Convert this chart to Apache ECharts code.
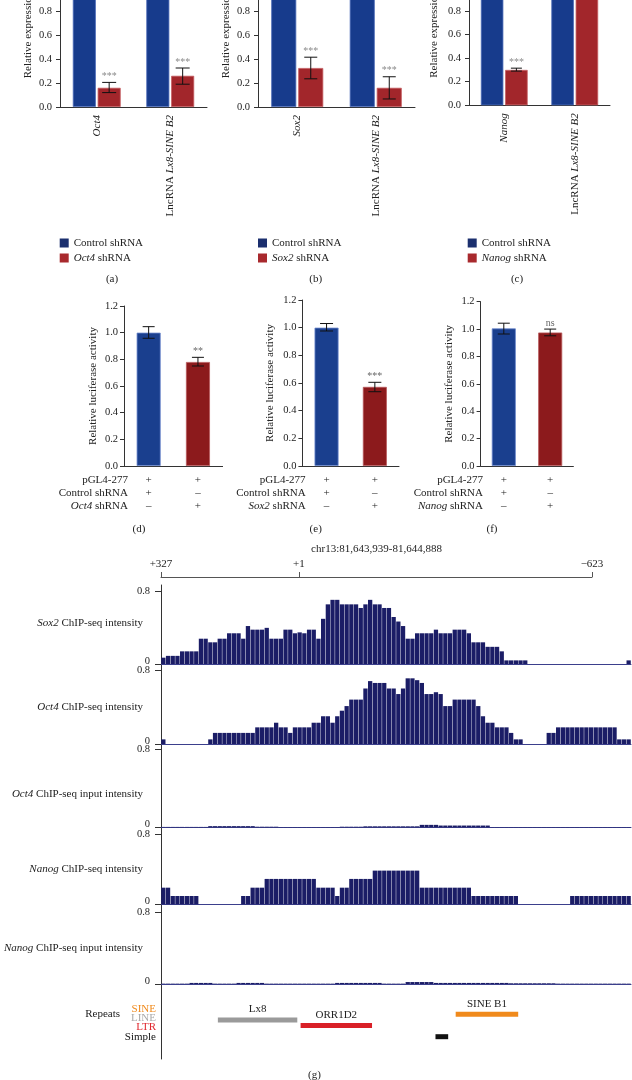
<!DOCTYPE html>
<html>
<head>
<meta charset="utf-8">
<title>Lx8-SINE B2 promoter binding</title>
<script src="https://cdn.jsdelivr.net/npm/echarts@6/dist/echarts.min.js"></script>
<style>
html, body { margin: 0; padding: 0; background: #fff; }
#main { width: 632px; height: 1080px; }
</style>
</head>
<body>
<div id="main"></div>
<script>
var FONT = 'Liberation Serif';

// (a)-(c) relative expression after knockdown
var exprCatsA = ['Oct4', 'LncRNA Lx8-SINE B2'];
var exprCatsB = ['Sox2', 'LncRNA Lx8-SINE B2'];
var exprCatsC = ['Nanog', 'LncRNA Lx8-SINE B2'];
var ctrlExprA = [1.0, 1.0];
var kdExprA = [0.16, 0.26];
var kdLowA = [0.12, 0.19];
var kdHighA = [0.205, 0.325];
var sigA = ['***', '***'];
var ctrlExprB = [1.0, 1.0];
var kdExprB = [0.325, 0.16];
var kdLowB = [0.235, 0.067];
var kdHighB = [0.415, 0.252];
var sigB = ['***', '***'];
var ctrlExprC = [1.0, 1.0];
var kdExprC = [0.30, 1.0];
var kdLowC = [0.29, null];
var kdHighC = [0.315, null];
var sigC = ['***', ''];

// (d)-(f) luciferase reporter
var lucCats = ['Control shRNA', 'Knockdown shRNA'];
var lucD = [1.0, 0.78];
var lucLowD = [0.958, 0.75];
var lucHighD = [1.045, 0.815];
var lucSigD = ['', '**'];
var lucE = [1.0, 0.572];
var lucLowE = [0.976, 0.537];
var lucHighE = [1.03, 0.605];
var lucSigE = ['', '***'];
var lucF = [1.005, 0.975];
var lucLowF = [0.964, 0.951];
var lucHighF = [1.043, 1.0];
var lucSigF = ['', 'ns'];
var rowPgl = ['+', '+'];
var rowCtrl = ['+', '–'];
var rowKd = ['–', '+'];

// (g) ChIP-seq tracks, 100 bins across the window
var sox2Track = [
  0.07, 0.09, 0.09, 0.09, 0.14, 0.14, 0.14, 0.14, 0.28, 0.28,
  0.24, 0.24, 0.28, 0.28, 0.34, 0.34, 0.34, 0.28, 0.42, 0.38,
  0.38, 0.38, 0.40, 0.28, 0.28, 0.28, 0.38, 0.38, 0.34, 0.35,
  0.34, 0.38, 0.38, 0.28, 0.50, 0.66, 0.71, 0.71, 0.66, 0.66,
  0.66, 0.66, 0.62, 0.66, 0.71, 0.66, 0.66, 0.62, 0.62, 0.52,
  0.47, 0.42, 0.28, 0.28, 0.34, 0.34, 0.34, 0.34, 0.38, 0.34,
  0.34, 0.34, 0.38, 0.38, 0.38, 0.34, 0.24, 0.24, 0.24, 0.19,
  0.19, 0.19, 0.14, 0.04, 0.04, 0.04, 0.04, 0.04, 0, 0,
  0, 0, 0, 0, 0, 0, 0, 0, 0, 0,
  0, 0, 0, 0, 0, 0, 0, 0, 0, 0.04
];
var oct4Track = [
  0.05, 0, 0, 0, 0, 0, 0, 0, 0, 0,
  0.05, 0.12, 0.12, 0.12, 0.12, 0.12, 0.12, 0.12, 0.12, 0.12,
  0.18, 0.18, 0.18, 0.18, 0.23, 0.18, 0.18, 0.12, 0.18, 0.18,
  0.18, 0.18, 0.23, 0.23, 0.30, 0.30, 0.23, 0.30, 0.36, 0.41,
  0.48, 0.48, 0.48, 0.60, 0.68, 0.66, 0.66, 0.66, 0.60, 0.60,
  0.54, 0.60, 0.71, 0.71, 0.69, 0.66, 0.54, 0.54, 0.56, 0.54,
  0.41, 0.41, 0.48, 0.48, 0.48, 0.48, 0.48, 0.41, 0.30, 0.23,
  0.23, 0.18, 0.18, 0.18, 0.12, 0.05, 0.05, 0, 0, 0,
  0, 0, 0.12, 0.12, 0.18, 0.18, 0.18, 0.18, 0.18, 0.18,
  0.18, 0.18, 0.18, 0.18, 0.18, 0.18, 0.18, 0.05, 0.05, 0.05
];
var oct4Input = [
  0.004, 0.004, 0.004, 0.004, 0.004, 0.004, 0.004, 0.004, 0.004, 0.004,
  0.012, 0.012, 0.012, 0.012, 0.012, 0.012, 0.012, 0.012, 0.012, 0.012,
  0.006, 0.006, 0.006, 0.006, 0.006, 0.003, 0.003, 0.003, 0.003, 0.003,
  0.003, 0.003, 0.003, 0.003, 0.003, 0.003, 0.003, 0.003, 0.006, 0.006,
  0.006, 0.006, 0.006, 0.010, 0.010, 0.010, 0.010, 0.010, 0.010, 0.010,
  0.010, 0.010, 0.010, 0.010, 0.010, 0.025, 0.025, 0.025, 0.025, 0.018,
  0.018, 0.018, 0.018, 0.018, 0.018, 0.018, 0.018, 0.018, 0.018, 0.018,
  0.003, 0.003, 0.003, 0.003, 0.003, 0.003, 0.003, 0.003, 0.003, 0.003,
  0.003, 0.003, 0.003, 0.003, 0.003, 0.003, 0.003, 0.003, 0.003, 0.003,
  0.003, 0.003, 0.003, 0.003, 0.003, 0.003, 0.003, 0.003, 0.003, 0.003
];
var nanogTrack = [
  0.19, 0.19, 0.095, 0.095, 0.095, 0.095, 0.095, 0.095, 0, 0,
  0, 0, 0, 0, 0, 0, 0, 0.095, 0.095, 0.19,
  0.19, 0.19, 0.29, 0.29, 0.29, 0.29, 0.29, 0.29, 0.29, 0.29,
  0.29, 0.29, 0.29, 0.19, 0.19, 0.19, 0.19, 0.095, 0.19, 0.19,
  0.29, 0.29, 0.29, 0.29, 0.29, 0.385, 0.385, 0.385, 0.385, 0.385,
  0.385, 0.385, 0.385, 0.385, 0.385, 0.19, 0.19, 0.19, 0.19, 0.19,
  0.19, 0.19, 0.19, 0.19, 0.19, 0.19, 0.095, 0.095, 0.095, 0.095,
  0.095, 0.095, 0.095, 0.095, 0.095, 0.095, 0, 0, 0, 0,
  0, 0, 0, 0, 0, 0, 0, 0.095, 0.095, 0.095,
  0.095, 0.095, 0.095, 0.095, 0.095, 0.095, 0.095, 0.095, 0.095, 0.095
];
var nanogInput = [
  0.004, 0.004, 0.004, 0.004, 0.004, 0.004, 0.012, 0.012, 0.012, 0.012,
  0.012, 0.004, 0.004, 0.004, 0.004, 0.004, 0.012, 0.012, 0.012, 0.012,
  0.012, 0.012, 0.004, 0.004, 0.004, 0.004, 0.004, 0.004, 0.004, 0.004,
  0.004, 0.004, 0.004, 0.004, 0.004, 0.004, 0.004, 0.012, 0.012, 0.012,
  0.012, 0.012, 0.012, 0.012, 0.012, 0.012, 0.012, 0.004, 0.004, 0.004,
  0.004, 0.004, 0.022, 0.022, 0.022, 0.022, 0.022, 0.022, 0.012, 0.012,
  0.012, 0.012, 0.012, 0.012, 0.012, 0.012, 0.012, 0.012, 0.012, 0.012,
  0.012, 0.012, 0.012, 0.012, 0.008, 0.008, 0.008, 0.008, 0.008, 0.008,
  0.008, 0.008, 0.008, 0.008, 0.004, 0.004, 0.004, 0.004, 0.004, 0.004,
  0.004, 0.004, 0.004, 0.004, 0.004, 0.004, 0.004, 0.004, 0.004, 0.004
];
var trackNames = [
  '{i|Sox2} ChIP-seq intensity',
  '{i|Oct4} ChIP-seq intensity',
  '{i|Oct4} ChIP-seq input intensity',
  '{i|Nanog} ChIP-seq intensity',
  '{i|Nanog} ChIP-seq input intensity'
];
var trackValues = [sox2Track, oct4Track, oct4Input, nanogTrack, nanogInput];

// coordinate ruler above the tracks
var rulerPos = [0, 304, 950];
var rulerText = ['+327', '+1', '−623'];

// repeat annotation, in track bins
var repeatNames = ['Lx8', 'ORR1D2', 'SINE B1', ''];
var repeatClass = ['LINE', 'LTR', 'SINE', 'Simple'];
var repeatStart = [12.1, 29.7, 62.7, 58.4];
var repeatEnd = [29.0, 44.9, 76.0, 61.1];
var repeatRow = [1, 2, 0, 4];

var BLUE = '#173b8c', RED = '#a2262b';
var BLUE2 = '#1a3f8e', RED2 = '#8c1a1c';
var NAVY = '#1b1d66';
var AXIS = '#333';
var TEXT = '#222';
var repeatColors = { SINE: '#f08a1c', LINE: '#9a9a9a', LTR: '#d92027', Simple: '#111' };
var ital = { fontStyle: 'italic', fontFamily: FONT, fontSize: 11, color: TEXT };

function geneRich(s) {
  return s.replace(/(Oct4|Sox2|Nanog|Lx8-SINE B2)/g, '{i|$1}');
}

var grids = [], xAxes = [], yAxes = [], series = [], texts = [];

function txt(x, y, s, align, size, color) {
  texts.push({
    type: 'text', x: x, y: y, silent: true,
    style: {
      text: s, align: align || 'center', textAlign: align || 'center',
      verticalAlign: 'middle', textVerticalAlign: 'middle',
      fontSize: size || 11, fontFamily: FONT, fill: color || TEXT,
      rich: { i: ital }
    }
  });
}

function errorBars(offset, capW, sig, sigColor) {
  return function (params, api) {
    var lo = api.value(1), hi = api.value(2);
    if (isNaN(lo) || isNaN(hi)) return null;
    var a = api.coord([api.value(0), lo]);
    var b = api.coord([api.value(0), hi]);
    var x = a[0] + offset;
    var st = { stroke: '#111', lineWidth: 1 };
    var kids = [
      { type: 'line', shape: { x1: x, y1: a[1], x2: x, y2: b[1] }, style: st },
      { type: 'line', shape: { x1: x - capW / 2, y1: a[1], x2: x + capW / 2, y2: a[1] }, style: st },
      { type: 'line', shape: { x1: x - capW / 2, y1: b[1], x2: x + capW / 2, y2: b[1] }, style: st }
    ];
    var s = sig[params.dataIndex];
    if (s) {
      kids.push({
        type: 'text',
        style: {
          text: s, x: x, y: b[1] - 6, align: 'center', textAlign: 'center',
          verticalAlign: 'middle', textVerticalAlign: 'middle',
          fill: sigColor, fontSize: 10, fontFamily: FONT
        }
      });
    }
    return { type: 'group', children: kids };
  };
}

function valueAxis(gi, name, nameGap, margin) {
  return {
    gridIndex: gi, type: 'value', min: 0, max: 1.2, interval: 0.2,
    name: name, nameLocation: 'middle', nameGap: nameGap, nameMoveOverlap: false,
    nameTextStyle: { fontSize: 11, color: TEXT, fontFamily: FONT },
    axisLine: { show: true, lineStyle: { color: AXIS } },
    axisTick: { show: true, length: 4, lineStyle: { color: AXIS } },
    axisLabel: {
      margin: margin, fontSize: 10.5, color: TEXT, fontFamily: FONT,
      formatter: function (v) { return v.toFixed(1); }
    },
    splitLine: { show: false }
  };
}

function addExprPanel(box, cats, ctrl, kd, lo, hi, sig, kdName, barW, capW, nameGap) {
  var gi = grids.length;
  box.outerBoundsMode = 'none';
  grids.push(box);
  xAxes.push({
    gridIndex: gi, type: 'category', data: cats,
    axisLine: { lineStyle: { color: AXIS } },
    axisTick: { alignWithLabel: true, length: 4, lineStyle: { color: AXIS } },
    axisLabel: {
      interval: 0, rotate: 90, margin: 8, fontSize: 11, color: TEXT, fontFamily: FONT,
      formatter: geneRich, rich: { i: ital }
    }
  });
  yAxes.push(valueAxis(gi, 'Relative expression', nameGap, 8));
  series.push({
    type: 'bar', name: 'Control shRNA', xAxisIndex: gi, yAxisIndex: gi, data: ctrl,
    barWidth: barW, barGap: '8%',
    itemStyle: { color: BLUE, borderColor: '#4a69b8', borderWidth: 0.8 }
  });
  series.push({
    type: 'bar', name: kdName, xAxisIndex: gi, yAxisIndex: gi, data: kd,
    barWidth: barW, barGap: '8%',
    itemStyle: { color: RED, borderColor: '#c45a5e', borderWidth: 0.8 }
  });
  series.push({
    type: 'custom', xAxisIndex: gi, yAxisIndex: gi, z: 5, silent: true,
    data: kd.map(function (v, i) { return [i, lo[i], hi[i]]; }),
    renderItem: errorBars(barW * 1.08 / 2, capW, sig, '#8a8a8a')
  });
}

function addLucPanel(box, vals, lo, hi, sig, kdName, capW, nameGap, headRight) {
  var gi = grids.length;
  box.outerBoundsMode = 'none';
  grids.push(box);
  xAxes.push({
    gridIndex: gi, type: 'category', data: lucCats,
    axisLine: { lineStyle: { color: AXIS } },
    axisTick: { show: false },
    axisLabel: {
      interval: 0, margin: 7.5, lineHeight: 13, fontSize: 11, color: TEXT, fontFamily: FONT,
      formatter: function (v, i) { return [rowPgl[i], rowCtrl[i], rowKd[i]].join('\n'); }
    }
  });
  yAxes.push(valueAxis(gi, 'Relative luciferase activity', nameGap, 6));
  series.push({
    type: 'bar', xAxisIndex: gi, yAxisIndex: gi, barWidth: 24,
    data: vals.map(function (v, i) {
      return {
        value: v,
        itemStyle: {
          color: i ? RED2 : BLUE2,
          borderColor: i ? '#b8585a' : '#6a87cc', borderWidth: 0.8
        }
      };
    })
  });
  series.push({
    type: 'custom', xAxisIndex: gi, yAxisIndex: gi, z: 5, silent: true,
    data: vals.map(function (v, i) { return [i, lo[i], hi[i]]; }),
    renderItem: errorBars(0, capW, sig, '#666')
  });
  var heads = ['pGL4-277', 'Control shRNA', geneRich(kdName)];
  heads.forEach(function (h, r) { txt(headRight, 480 + 13 * r, h, 'right'); });
}

addExprPanel({ left: 60, top: -37, width: 147, height: 144 },
  exprCatsA, ctrlExprA, kdExprA, kdLowA, kdHighA, sigA, 'Oct4 shRNA', 23, 14, 26);
addExprPanel({ left: 258, top: -37, width: 157, height: 144 },
  exprCatsB, ctrlExprB, kdExprB, kdLowB, kdHighB, sigB, 'Sox2 shRNA', 25, 13, 26);
addExprPanel({ left: 469, top: -36.2, width: 141, height: 141.5 },
  exprCatsC, ctrlExprC, kdExprC, kdLowC, kdHighC, sigC, 'Nanog shRNA', 22.5, 11, 29);

addLucPanel({ left: 124, top: 306, width: 98.6, height: 160 },
  lucD, lucLowD, lucHighD, lucSigD, 'Oct4 shRNA', 12, 25, 128);
addLucPanel({ left: 302.4, top: 300, width: 96.6, height: 166 },
  lucE, lucLowE, lucHighE, lucSigE, 'Sox2 shRNA', 13, 27, 305.6);
addLucPanel({ left: 480.6, top: 301.7, width: 92.8, height: 164.3 },
  lucF, lucLowF, lucHighF, lucSigF, 'Nanog shRNA', 12, 25.5, 483);

// ruler
(function () {
  var gi = grids.length;
  grids.push({ left: 161, top: 576, width: 431, height: 1, outerBoundsMode: 'none' });
  xAxes.push({
    gridIndex: gi, type: 'value', position: 'top', min: 0, max: 950,
    name: 'chr13:81,643,939-81,644,888', nameLocation: 'middle', nameGap: 21, nameMoveOverlap: false,
    nameTextStyle: { fontSize: 11, color: TEXT, fontFamily: FONT },
    axisLine: { show: true, lineStyle: { color: '#555' } },
    axisTick: { show: true, customValues: rulerPos, length: 5, lineStyle: { color: '#555' } },
    axisLabel: {
      customValues: rulerPos, margin: 6, fontSize: 11, color: TEXT, fontFamily: FONT,
      formatter: function (v) { var k = rulerPos.indexOf(v); return k < 0 ? '' : rulerText[k]; }
    },
    splitLine: { show: false }
  });
  yAxes.push({ gridIndex: gi, type: 'value', show: false });
})();

// tracks
var trackTop = [591.7, 670, 749.3, 834.3, 912.7];
var trackBottom = [664, 744, 827.3, 904.3, 984];
var trackNamePad = [[0, 0, 10, 0], [0, 0, 0, 0], [12, 0, 0, 0], [0, 0, 0, 0], [0, 0, 0, 0]];
var trackBins = sox2Track.map(function (v, i) { return i; });
trackValues.forEach(function (vals, t) {
  var gi = grids.length;
  grids.push({ left: 161, top: trackTop[t], width: 470, height: trackBottom[t] - trackTop[t], outerBoundsMode: 'none' });
  xAxes.push({
    gridIndex: gi, type: 'category', data: trackBins, boundaryGap: true,
    axisLine: { show: true, lineStyle: { color: '#3b3f8c', width: 1 } },
    axisTick: { show: false }, axisLabel: { show: false }
  });
  yAxes.push({
    gridIndex: gi, type: 'value', min: 0, max: 0.8, interval: 0.8,
    name: trackNames[t], nameLocation: 'middle', nameRotate: 0, nameGap: 18, nameMoveOverlap: false,
    nameTextStyle: {
      align: 'right', verticalAlign: 'middle', fontSize: 11, color: TEXT, fontFamily: FONT,
      rich: { i: ital }, padding: trackNamePad[t]
    },
    axisLine: { show: false },
    axisTick: { show: true, length: 6, lineStyle: { color: AXIS } },
    axisLabel: {
      margin: 11, fontSize: 10.5, color: TEXT, fontFamily: FONT,
      formatter: function (v) { return v === 0 ? '{z|0}' : v.toFixed(1); },
      rich: { z: { fontSize: 10.5, fontFamily: FONT, color: TEXT, padding: [0, 0, 6, 0] } }
    },
    splitLine: { show: false }
  });
  series.push({
    type: 'bar', xAxisIndex: gi, yAxisIndex: gi, data: vals, silent: true,
    barCategoryGap: '9%', itemStyle: { color: NAVY }
  });
});

// repeats
(function () {
  var gi = grids.length;
  grids.push({ left: 161, top: 991.9, width: 470, height: 67.2, outerBoundsMode: 'none' });
  xAxes.push({ gridIndex: gi, type: 'value', min: 0, max: 100, show: false });
  yAxes.push({ gridIndex: gi, type: 'value', min: -4, max: 8, inverse: true, show: false });
  series.push({
    type: 'custom', xAxisIndex: gi, yAxisIndex: gi, silent: true,
    encode: { x: [0, 1], y: 2 },
    data: repeatStart.map(function (s, i) { return [s, repeatEnd[i], repeatRow[i]]; }),
    renderItem: function (params, api) {
      var i = params.dataIndex;
      var p0 = api.coord([api.value(0), api.value(2)]);
      var p1 = api.coord([api.value(1), api.value(2)]);
      var h = 5;
      var kids = [{
        type: 'rect',
        shape: { x: p0[0], y: p0[1] - h / 2, width: p1[0] - p0[0], height: h },
        style: { fill: repeatColors[repeatClass[i]] }
      }];
      if (repeatNames[i]) {
        kids.push({
          type: 'text',
          style: {
            text: repeatNames[i], x: (p0[0] + p1[0]) / 2, y: p0[1] - h / 2 - 8,
            align: 'center', textAlign: 'center', verticalAlign: 'middle', textVerticalAlign: 'middle',
            fill: TEXT, fontSize: 11, fontFamily: FONT
          }
        });
      }
      return { type: 'group', children: kids };
    }
  });
})();

// continuous vertical axis line through the track area
(function () {
  var gi = grids.length;
  grids.push({ left: 161, top: 585, width: 1, height: 474, outerBoundsMode: 'none' });
  xAxes.push({ gridIndex: gi, type: 'value', show: false });
  yAxes.push({
    gridIndex: gi, type: 'value', min: 0, max: 1,
    axisLine: { show: true, lineStyle: { color: AXIS } },
    axisTick: { show: false }, axisLabel: { show: false }, splitLine: { show: false }
  });
})();

// panel letters and side labels
txt(112, 279, '(a)');
txt(315.7, 279, '(b)');
txt(517, 279, '(c)');
txt(139, 529, '(d)');
txt(315.7, 529, '(e)');
txt(492, 529, '(f)');
txt(314.5, 1075, '(g)');
txt(120, 1014.3, 'Repeats', 'right');
txt(156, 1008.7, 'SINE', 'right', 11, repeatColors.SINE);
txt(156, 1018, 'LINE', 'right', 11, '#aaa');
txt(156, 1026.7, 'LTR', 'right', 11, '#e0282e');
txt(156, 1036.7, 'Simple', 'right', 11, '#111');

function mkLegend(left, kdName) {
  return {
    left: left, top: 237, orient: 'vertical', padding: 0,
    itemWidth: 9, itemHeight: 9, itemGap: 3, icon: 'rect', selectedMode: false,
    data: [
      { name: 'Control shRNA', itemStyle: { color: '#1b2f6e', borderWidth: 0 } },
      { name: kdName, itemStyle: { color: '#a8292d', borderWidth: 0 } }
    ],
    formatter: geneRich,
    textStyle: { fontSize: 11, lineHeight: 12, color: TEXT, fontFamily: FONT, rich: { i: ital } }
  };
}

var chart = echarts.init(document.getElementById('main'));
chart.setOption({
  animation: false,
  backgroundColor: '#fff',
  textStyle: { fontFamily: FONT },
  grid: grids,
  xAxis: xAxes,
  yAxis: yAxes,
  legend: [mkLegend(59.7, 'Oct4 shRNA'), mkLegend(258, 'Sox2 shRNA'), mkLegend(467.7, 'Nanog shRNA')],
  graphic: { elements: texts },
  series: series
});
</script>
</body>
</html>
